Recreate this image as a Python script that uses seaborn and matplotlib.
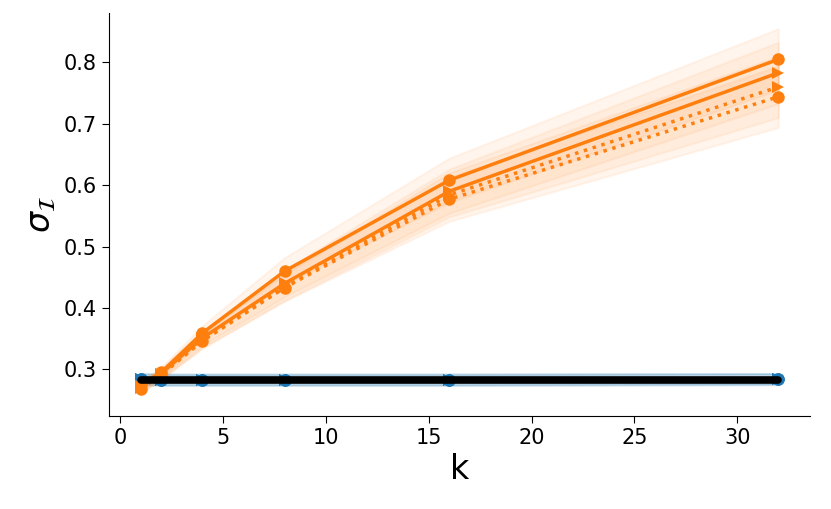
import matplotlib
matplotlib.use("Agg")
import matplotlib.pyplot as plt
import seaborn as sns
import pandas as pd

#  Values
k_values = [1, 2, 4, 8, 16, 32]

orange_solid_circle = [0.275, 0.295, 0.359, 0.460, 0.608, 0.805]
orange_solid_tri = [0.272, 0.293, 0.351, 0.440, 0.590, 0.783]
orange_dot_tri = [0.270, 0.292, 0.347, 0.434, 0.584, 0.760]
orange_dot_circle = [0.268, 0.291, 0.346, 0.433, 0.577, 0.744]
orange_spread = [0.008, 0.008, 0.012, 0.022, 0.036, 0.050]

blue_level = [0.284, 0.283, 0.283, 0.283, 0.283, 0.284]
blue_spread = [0.009, 0.009, 0.009, 0.009, 0.009, 0.009]
black_level = [0.283, 0.283, 0.283, 0.283, 0.283, 0.283]

sns.set_style("ticks", {'text.color': 'black', 'axes.labelcolor': 'black',
                        'xtick.color': 'black', 'ytick.color': 'black',
                        'axes.edgecolor': 'black'})
plt.rcParams['font.family'] = ['DejaVu Sans']

fig, ax = plt.subplots(figsize=(8.31, 5.09), dpi=100)
fig.subplots_adjust(left=0.131, right=0.975, top=0.975, bottom=0.183)

blue = sns.color_palette()[0]
orange = sns.color_palette()[1]

series = [
    (blue, blue_level, blue_spread, '-', 'o'),
    (blue, blue_level, blue_spread, '-', '>'),
    (blue, blue_level, blue_spread, ':', '>'),
    (blue, blue_level, blue_spread, ':', 'o'),
    (orange, orange_solid_circle, orange_spread, '-', 'o'),
    (orange, orange_solid_tri, orange_spread, '-', '>'),
    (orange, orange_dot_tri, orange_spread, ':', '>'),
    (orange, orange_dot_circle, orange_spread, ':', 'o'),
]

for color, vals, spread, ls, mk in series:
    df = pd.DataFrame({'k': k_values, 'v': vals})
    sns.lineplot(data=df, x='k', y='v', color=color, linestyle=ls,
                 marker=mk, markersize=9, markeredgewidth=0,
                 linewidth=2.5, ax=ax)
    lo = [v - s for v, s in zip(vals, spread)]
    hi = [v + s for v, s in zip(vals, spread)]
    ax.fill_between(k_values, lo, hi, color=color, alpha=0.07, linewidth=1.5,
                    edgecolor=color)

sns.lineplot(x=k_values, y=black_level, color='black', linewidth=5.5, ax=ax)

sns.despine(ax=ax)
ax.set_xticks([0, 5, 10, 15, 20, 25, 30])
ax.set_yticks([0.3, 0.4, 0.5, 0.6, 0.7, 0.8])
ax.tick_params(labelsize=15, length=5)
ax.set_xlabel('k', fontsize=24)
ax.set_ylabel(r'$\sigma_\mathcal{I}$', fontsize=24)
ax.set_ylim(0.224, 0.881)

plt.savefig('out.png')
